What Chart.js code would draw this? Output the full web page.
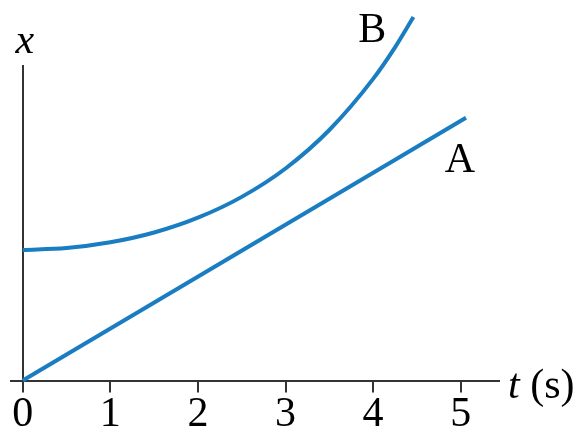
<!DOCTYPE html>
<html>
<head>
<meta charset="utf-8">
<script src="https://cdn.jsdelivr.net/npm/chart.js@4.4.1/dist/chart.umd.min.js"></script>
<style>
  html, body { margin: 0; padding: 0; background: #fff; }
  canvas { display: block; }
</style>
</head>
<body>
<canvas id="chartCanvas" width="577" height="432"></canvas>
<script>
// time ticks along the horizontal axis (s)
const TICKS = [0, 1, 2, 3, 4, 5];

// curve A: straight line through the origin
const A_T = [0, 5.06];
const A_X = [0, 8.33];

// curve B: starts above the origin and bends upward
const B_T = [0, 0.5, 1, 1.5, 2, 2.5, 3, 3.5, 4, 4.25, 4.46];
const B_X = [4.14, 4.2, 4.38, 4.69, 5.16, 5.82, 6.72, 7.94, 9.56, 10.56, 11.52];

const LINE_BLUE = '#1a7dc2';
const AXIS_DARK = '#333333';
const SERIF = '"Times New Roman", "Liberation Serif", Times, serif';

function toPoints(ts, xs) {
  return ts.map((t, i) => ({ x: t, y: xs[i] }));
}

// axis titles and curve labels, placed through the scales
const labelPlugin = {
  id: 'labels',
  afterDraw(chart) {
    const { ctx, chartArea, scales } = chart;
    const sx = scales.x, sy = scales.y;
    ctx.save();
    ctx.fillStyle = '#000';
    ctx.textBaseline = 'alphabetic';

    // "x" above the vertical axis
    ctx.font = 'italic 42px ' + SERIF;
    ctx.textAlign = 'center';
    ctx.fillText('x', sx.getPixelForValue(0) + 2, chartArea.top - 12);

    // "t (s)" at the end of the horizontal axis
    ctx.textAlign = 'left';
    const tx = chartArea.right + 9;
    const ty = chartArea.bottom + 17;
    ctx.fillText('t', tx, ty);
    const tw = ctx.measureText('t ').width;
    ctx.font = '42px ' + SERIF;
    ctx.fillText('(s)', tx + tw, ty);

    // curve names
    ctx.textAlign = 'center';
    ctx.fillText('B', sx.getPixelForValue(3.99), sy.getPixelForValue(10.72));
    ctx.fillText('A', sx.getPixelForValue(4.99), sy.getPixelForValue(6.61));
    ctx.restore();
  }
};

const ctx = document.getElementById('chartCanvas').getContext('2d');
const chart = new Chart(ctx, {
  type: 'line',
  data: {
    datasets: [
      {
        label: 'A',
        data: toPoints(A_T, A_X),
        borderColor: LINE_BLUE,
        borderWidth: 4,
        pointRadius: 0,
        clip: false
      },
      {
        label: 'B',
        data: toPoints(B_T, B_X),
        borderColor: LINE_BLUE,
        borderWidth: 4,
        pointRadius: 0,
        cubicInterpolationMode: 'monotone',
        clip: false
      }
    ]
  },
  options: {
    responsive: false,
    animation: false,
    events: [],
    layout: { padding: { left: 11, right: 78, top: 65, bottom: 0 } },
    plugins: {
      legend: { display: false },
      tooltip: { enabled: false }
    },
    scales: {
      x: {
        type: 'linear',
        min: -0.134,
        max: 5.437,
        afterBuildTicks(scale) {
          scale.ticks = TICKS.map(v => ({ value: v }));
        },
        afterFit(scale) {
          scale.height = 51.5;
        },
        border: { display: true, color: AXIS_DARK, width: 2 },
        grid: {
          // only the t = 0 line is shown: it is the vertical axis
          color: c => (c.tick && c.tick.value === 0 ? AXIS_DARK : 'rgba(0,0,0,0)'),
          lineWidth: 2,
          tickColor: AXIS_DARK,
          tickWidth: 2,
          tickLength: 12,
          drawOnChartArea: true
        },
        ticks: {
          color: '#000',
          padding: 1.5,
          maxRotation: 0,
          font: { family: SERIF, size: 42, lineHeight: 1 },
          callback: v => String(v)
        }
      },
      y: {
        type: 'linear',
        display: false,
        min: 0,
        max: 10
      }
    }
  },
  plugins: [labelPlugin]
});
</script>
</body>
</html>
